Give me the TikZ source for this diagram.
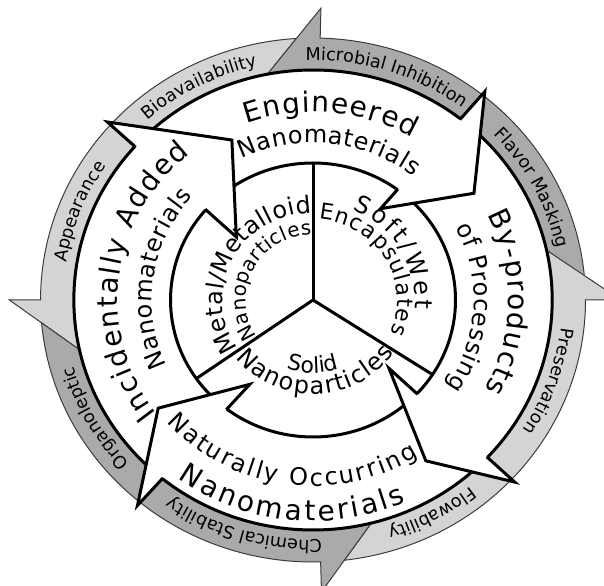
\documentclass[tikz,border=0pt]{standalone}
\usepackage{fontspec}
\setmainfont{DejaVu Sans}
\usetikzlibrary{calc, decorations.text}

\definecolor{bandlight}{RGB}{212,212,212}
\definecolor{banddark}{RGB}{170,170,170}
\definecolor{bandline}{RGB}{60,60,60}

\newcommand{\ringfont}{\fontsize{8.8}{10}\selectfont}
\newcommand{\armbig}{\fontsize{14}{16}\selectfont}
\newcommand{\armsmall}{\fontsize{12}{14}\selectfont}
\newcommand{\corebig}{\fontsize{12}{14}\selectfont}
\newcommand{\coremid}{\fontsize{11}{13}\selectfont}
\newcommand{\coresmall}{\fontsize{10}{12}\selectfont}

\begin{document}
\begin{tikzpicture}[
  x=0.52pt, y=0.5pt,
  lband/.style = {fill=bandlight, draw=bandline, line width=0.5pt},
  dband/.style = {fill=banddark, draw=bandline, line width=0.5pt},
  heavy/.style = {line width=1.5pt, line join=miter, miter limit=25},
  rlabel/.style = {decorate, decoration={text along path, text align=center, text={|\ringfont|#1}}},
  abig/.style = {decorate, decoration={text along path, text align=fit to path, text={|\armbig|#1}}},
  asmall/.style = {decorate, decoration={text along path, text align=fit to path, text={|\armsmall|#1}}},
  cbig/.style = {decorate, decoration={text along path, text align=fit to path, text={|\corebig|#1}}},
  cmid/.style = {decorate, decoration={text along path, text align=fit to path, text={|\coremid|#1}}},
  csmall/.style = {decorate, decoration={text along path, text align=fit to path, text={|\coresmall|#1}}},
  csolid/.style = {decorate, decoration={text along path, text align=center, text={|\coremid|#1}}},
  ]
  \useasboundingbox (-301,-286) rectangle (279.8,300);
  \coordinate (c) at (0,0);

  \path[lband] (192.5:230) -- (180:292) -- (180:262)
    arc[start angle=180, end angle=93.5, radius=262]
    -- (101:230) arc[start angle=101, end angle=192.5, radius=230] -- cycle;
  \path[dband] (101:230) -- (88.5:292) -- (88.5:262)
    arc[start angle=88.5, end angle=5, radius=262]
    -- (12.5:230) arc[start angle=12.5, end angle=101, radius=230] -- cycle;
  \path[lband] (12.5:230) -- (0:296) -- (0:262)
    arc[start angle=0, end angle=-83.4, radius=262]
    -- (-75.9:230) arc[start angle=-75.9, end angle=12.5, radius=230] -- cycle;
  \path[dband] (-75.9:230) -- (-88.4:292) -- (-88.4:262)
    arc[start angle=-88.4, end angle=-175, radius=262]
    -- (-167.5:230) arc[start angle=-167.5, end angle=-75.9, radius=230] -- cycle;

  \fill[white] (c) circle[radius=230];
  \draw[heavy] (c) circle[radius=230];
  \draw[heavy] (c) circle[radius=137];
  \draw[heavy] (c) -- (90:137);
  \draw[heavy] (c) -- (215:137);
  \draw[heavy] (c) -- (327:137);

  \coordinate (inco) at (138:266);
  \coordinate (inct) at (116:178);
  \coordinate (inci) at (139.5:97);
  \coordinate (engo) at (51.6:266);
  \coordinate (engt) at (34.6:188);
  \coordinate (engi) at (54.6:112);
  \coordinate (byo) at (316.8:266);
  \coordinate (byt) at (304:194);
  \coordinate (byi) at (316.9:100);
  \coordinate (nato) at (230.6:266);
  \coordinate (natt) at (216:184);
  \coordinate (nati) at (234.2:104);

  \fill[white] (inco) -- (inct) -- (inci) -- cycle;
  \fill[white] (engo) -- (engt) -- (engi) -- cycle;
  \fill[white] (byo) -- (byt) -- (byi) -- cycle;
  \fill[white] (nato) -- (natt) -- (nati) -- cycle;
  \draw[heavy] ($(inco)!0.218!(inci)$) -- (inco) -- (inct) -- (inci) -- ($(inco)!0.758!(inci)$);
  \draw[heavy] ($(engo)!0.239!(engi)$) -- (engo) -- (engt) -- (engi) -- ($(engo)!0.833!(engi)$);
  \draw[heavy] ($(byo)!0.222!(byi)$) -- (byo) -- (byt) -- (byi) -- ($(byo)!0.772!(byi)$);
  \draw[heavy] ($(nato)!0.227!(nati)$) -- (nato) -- (natt) -- (nati) -- ($(nato)!0.791!(nati)$);

  \path[rlabel={Bioavailability}] (147.4:240) arc[start angle=147.4, end angle=87.4, radius=240];
  \path[rlabel={Microbial Inhibition}] (102.3:240) arc[start angle=102.3, end angle=42.3, radius=240];
  \path[rlabel={Flavor Masking}] (57.8:240) arc[start angle=57.8, end angle=-2.2, radius=240];
  \path[rlabel={Preservation}] (10.5:240) arc[start angle=10.5, end angle=-49.5, radius=240];
  \path[rlabel={Flowability}] (-31.6:240) arc[start angle=-31.6, end angle=-91.6, radius=240];
  \path[rlabel={Chemical Stability}] (-76.4:240) arc[start angle=-76.4, end angle=-136.4, radius=240];
  \path[rlabel={Organoleptic}] (239.2:240) arc[start angle=239.2, end angle=179.2, radius=240];
  \path[rlabel={Appearance}] (188.7:240) arc[start angle=188.7, end angle=128.7, radius=240];

  \path[abig={Engineered}] (110:188) arc[start angle=110, end angle=59.5, radius=188];
  \path[asmall={Nanomaterials}] (116:157) arc[start angle=116, end angle=52, radius=157];
  \path[abig={Incidentally Added}] (217:188) arc[start angle=217, end angle=129, radius=188];
  \path[asmall={Nanomaterials}] (205:155) arc[start angle=205, end angle=138, radius=155];
  \path[abig={By-products}] (27:188) arc[start angle=27, end angle=-28.5, radius=188];
  \path[asmall={of Processing}] (28:155) arc[start angle=28, end angle=-34, radius=155];
  \path[asmall={Naturally Occurring}] (221:186) arc[start angle=221, end angle=303, radius=186];
  \path[abig={Nanomaterials}] (234:221) arc[start angle=234, end angle=294, radius=221];

  \path[cbig={Metal/Metalloid}] (214:87) arc[start angle=214, end angle=91, radius=87];
  \path[csmall={Nanoparticles}] (214:65) arc[start angle=214, end angle=91, radius=65];
  \path[cbig={Soft/Wet}] (67:98) arc[start angle=67, end angle=-5, radius=98];
  \path[cmid={Encapsulates}] (86:81) arc[start angle=86, end angle=-24, radius=81];
  \path[csolid={Solid}] (240:73) arc[start angle=240, end angle=300, radius=73];
  \path[cbig={Nanoparticles}] (218:94) arc[start angle=218, end angle=326, radius=94];
\end{tikzpicture}
\end{document}
